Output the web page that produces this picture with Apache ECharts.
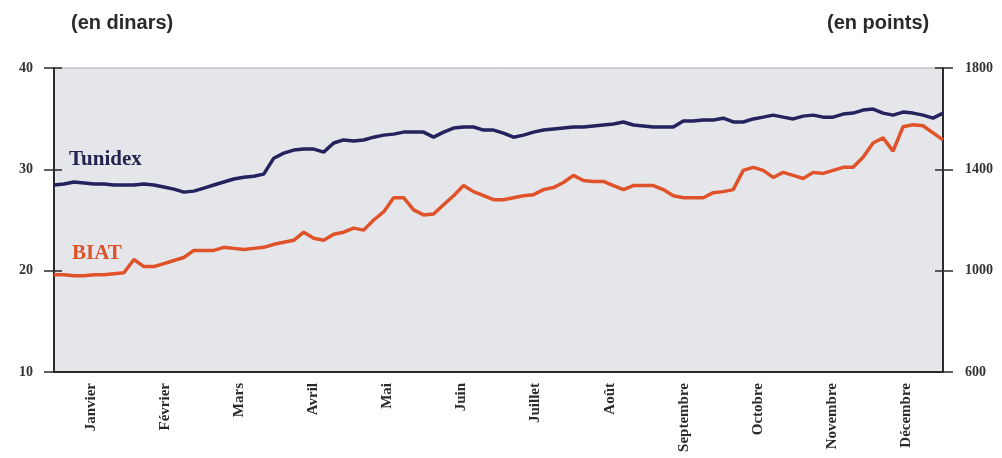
<!DOCTYPE html>
<html>
<head>
<meta charset="utf-8">
<script src="https://cdn.jsdelivr.net/npm/echarts@6/dist/echarts.min.js"></script>
<style>
html,body{margin:0;padding:0;background:#fff;}
#chart{width:1002px;height:458px;}
</style>
</head>
<body>
<div id="chart"></div>
<script>
// Month labels (x axis)
const months = ['Janvier','Février','Mars','Avril','Mai','Juin','Juillet','Août','Septembre','Octobre','Novembre','Décembre'];
// Left axis (en dinars) tick values
const leftTicks = [10, 20, 30, 40];
// Right axis (en points) tick values
const rightTicks = [600, 1000, 1400, 1800];

// BIAT share price (dinars), sampled evenly through the year
const biat = [19.6,19.6,19.5,19.5,19.6,19.6,19.7,19.8,21.1,20.4,
  20.4,20.7,21.0,21.3,22.0,22.0,22.0,22.3,22.2,22.1,
  22.2,22.3,22.6,22.8,23.0,23.8,23.2,23.0,23.6,23.8,
  24.2,24.0,25.0,25.8,27.2,27.2,26.0,25.5,25.6,26.5,
  27.4,28.4,27.8,27.4,27.0,27.0,27.2,27.4,27.5,28.0,
  28.2,28.7,29.4,28.9,28.8,28.8,28.4,28.0,28.4,28.4,
  28.4,28.0,27.4,27.2,27.2,27.2,27.7,27.8,28.0,29.9,
  30.2,29.9,29.2,29.7,29.4,29.1,29.7,29.6,29.9,30.2,
  30.2,31.2,32.6,33.1,31.8,34.2,34.4,34.3,33.6,32.9];

// Tunidex index (points), same sampling
const tunidex = [1338,1342,1350,1346,1342,1342,1338,1338,1338,1342,
  1338,1330,1322,1310,1314,1326,1338,1350,1362,1369,
  1373,1381,1444,1464,1476,1480,1480,1468,1504,1516,
  1512,1516,1527,1535,1539,1547,1547,1547,1527,1547,
  1563,1567,1567,1555,1555,1543,1527,1535,1547,1555,
  1559,1563,1567,1567,1571,1575,1579,1587,1575,1571,
  1567,1567,1567,1591,1591,1595,1595,1602,1587,1587,
  1599,1606,1614,1606,1599,1610,1614,1606,1606,1618,
  1622,1634,1638,1622,1614,1626,1622,1614,1602,1622];

const samples = biat.map((_, i) => String(i + 1));

const serif = "'Liberation Serif','DejaVu Serif',serif";
const sans = "'Liberation Sans',Arial,sans-serif";
const axisColor = '#2b2b2b';
const plain = v => String(v);

const chart = echarts.init(document.getElementById('chart'));
chart.setOption({
  backgroundColor: '#ffffff',
  animation: false,
  grid: {
    left: 54, right: 59, top: 68, bottom: 86,
    show: true, backgroundColor: '#e5e6ea', borderColor: '#a9aab0', borderWidth: 1
  },
  graphic: [
    {type: 'text', left: 71, top: 13, style: {text: '(en dinars)', font: 'bold 20px ' + sans, fill: '#2a2a2a'}},
    {type: 'text', left: 827, top: 13, style: {text: '(en points)', font: 'bold 20px ' + sans, fill: '#2a2a2a'}},
    {type: 'text', left: 69, top: 149, style: {text: 'Tunidex', font: 'bold 21px ' + serif, fill: '#23244f'}},
    {type: 'text', left: 72, top: 243, style: {text: 'BIAT', font: 'bold 21px ' + serif, fill: '#d9542d'}}
  ],
  xAxis: [
    {
      type: 'category', data: months, boundaryGap: true, position: 'bottom',
      axisLine: {lineStyle: {color: axisColor, width: 2}},
      axisTick: {length: 14, lineStyle: {color: axisColor, width: 2}},
      axisLabel: {rotate: 90, interval: 0, margin: 11, fontFamily: serif, fontWeight: 'bold', fontSize: 15, color: '#2b2b2b'},
      splitLine: {show: false}
    },
    {type: 'category', data: samples, boundaryGap: false, show: false}
  ],
  yAxis: [
    {
      type: 'value', min: leftTicks[0], max: leftTicks[leftTicks.length - 1], interval: 10, position: 'left',
      axisLine: {show: true, lineStyle: {color: axisColor, width: 2}},
      axisTick: {show: true, length: 10, lineStyle: {color: axisColor, width: 1.5}},
      axisLabel: {margin: 21, formatter: plain, fontFamily: serif, fontWeight: 'bold', fontSize: 14, color: '#333'},
      splitLine: {show: false}
    },
    {
      type: 'value', min: rightTicks[0], max: rightTicks[rightTicks.length - 1], interval: 400, position: 'right',
      axisLine: {show: true, lineStyle: {color: axisColor, width: 2}},
      axisTick: {show: true, length: 10, lineStyle: {color: axisColor, width: 1.5}},
      axisLabel: {margin: 22, formatter: plain, fontFamily: serif, fontWeight: 'bold', fontSize: 14, color: '#333'},
      splitLine: {show: false}
    },
    {
      type: 'value', min: 10, max: 40, interval: 10, position: 'left',
      axisLine: {show: false}, axisLabel: {show: false}, splitLine: {show: false},
      axisTick: {show: true, inside: true, length: 8, lineStyle: {color: axisColor, width: 1.5}}
    },
    {
      type: 'value', min: 600, max: 1800, interval: 400, position: 'right',
      axisLine: {show: false}, axisLabel: {show: false}, splitLine: {show: false},
      axisTick: {show: true, inside: true, length: 8, lineStyle: {color: axisColor, width: 1.5}}
    }
  ],
  series: [
    {
      name: 'Tunidex', type: 'line', xAxisIndex: 1, yAxisIndex: 1, data: tunidex,
      showSymbol: false, smooth: false,
      lineStyle: {color: '#23235e', width: 3.5}
    },
    {
      name: 'BIAT', type: 'line', xAxisIndex: 1, yAxisIndex: 0, data: biat,
      showSymbol: false, smooth: false,
      lineStyle: {color: '#e0522a', width: 3.5}
    }
  ]
});
</script>
</body>
</html>
